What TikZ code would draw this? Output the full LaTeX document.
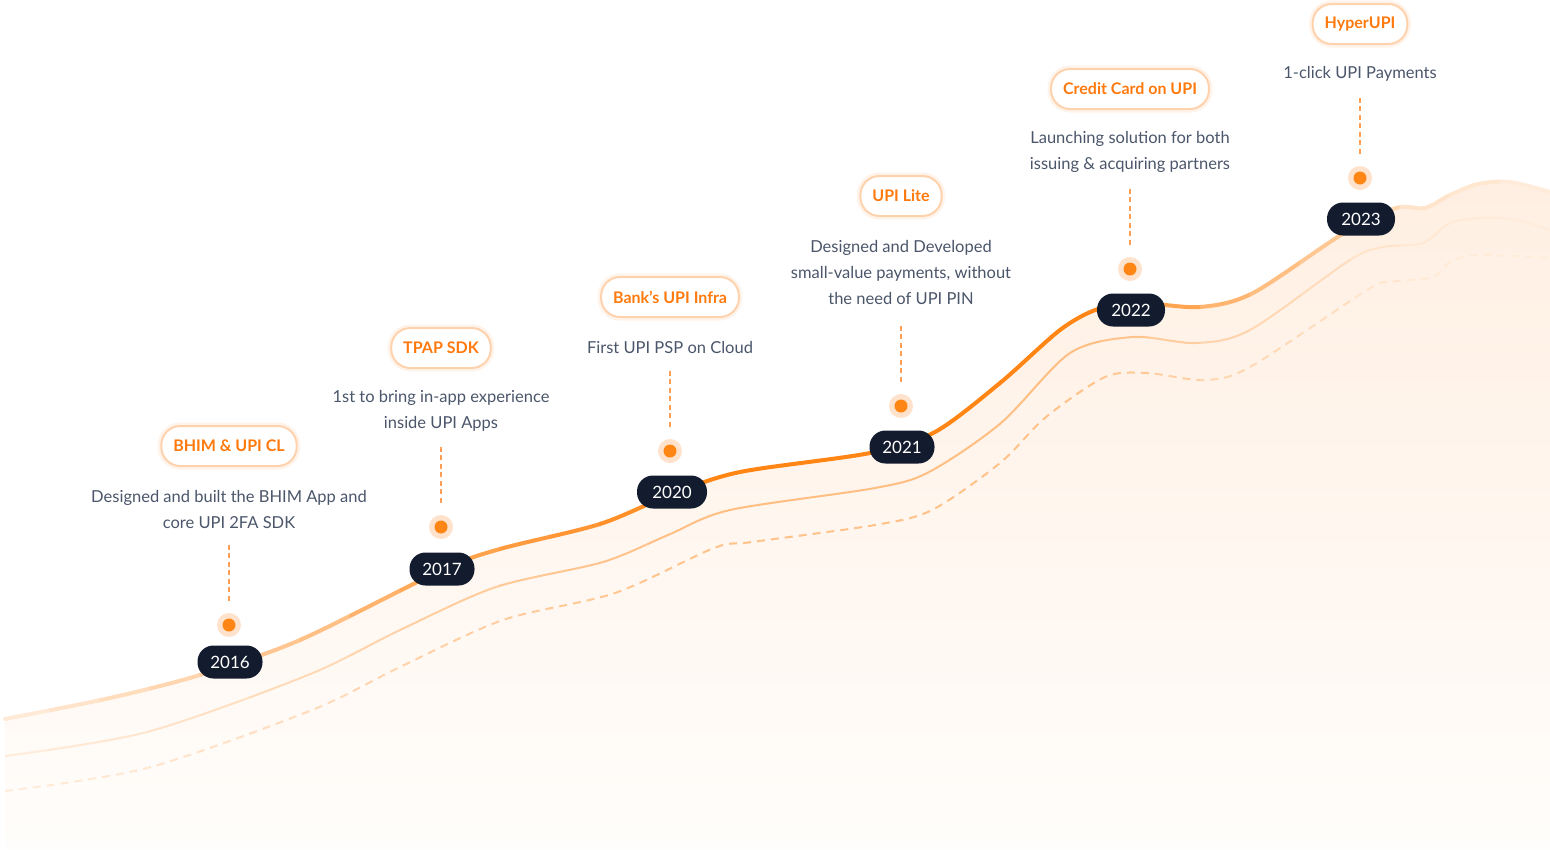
\documentclass[tikz,border=0pt]{standalone}
\usepackage{fontspec}
\setmainfont{Lato}
\definecolor{org}{HTML}{FF8514}
\definecolor{navy}{HTML}{131C2E}
\definecolor{desc}{HTML}{4B566B}
\definecolor{lbl}{HTML}{FF7A0E}
\definecolor{lblborder}{HTML}{FFD2AE}
\definecolor{glow}{HTML}{FFF3EA}
\definecolor{halo}{HTML}{FFE2CB}
\definecolor{vd}{HTML}{FF9F55}
\definecolor{filltop}{HTML}{FFEFE2}
\definecolor{fillbot}{HTML}{FFFDFB}
\begin{document}
\begin{tikzpicture}[x=1pt,y=-1pt,
  lblpill/.style={draw=lblborder, line width=2pt, fill=white, rounded corners=19pt,
    minimum height=40pt, inner xsep=12pt, text=lbl,
    font=\fontsize{16}{19}\selectfont\bfseries,
    preaction={draw=glow, line width=7pt, rounded corners=19pt}},
  yearpill/.style={fill=navy, text=white, rounded corners=16pt, minimum height=33pt,
    minimum width=65pt, inner xsep=10pt, font=\fontsize{17}{20}\selectfont},
  desctext/.style={text=desc, align=center, inner sep=0pt,
    font=\fontsize{16.5}{26}\selectfont},
  halodot/.style={circle, fill=halo, minimum size=24pt, inner sep=0pt},
  vdash/.style={draw=vd, line width=1.8pt, dash pattern=on 5pt off 3.5pt}
]
\useasboundingbox (0,0) rectangle (1550,849);
\fill[white] (0,0) rectangle (1550,849);

% filled area under the main curve
\shade[top color=filltop, bottom color=fillbot]
  (5,849) -- plot[smooth,tension=0.5] coordinates {(5,719) (110,698) (200,675) (300,640) (442,570) (500,549) (600,524) (672,494) (740,472) (870,453) (935,432) (1000,383) (1060,330) (1098,309) (1140,303) (1200,307) (1253,293) (1344,233) (1396,208) (1425,208) (1450,195) (1478,184) (1510,182) (1550,192)}
  -- (1550,849) -- cycle;

% curves with colour varying along x
\foreach \xa/\p in {0/17,50/22,100/28,150/34,200/39,250/47,300/52,350/62,400/70,450/76,500/82,550/87,600/92,650/97,700/100,750/100,800/100,850/100,900/100,950/100,1000/100,1050/100,1100/91,1150/74,1200/61,1250/53,1300/46,1350/32,1400/22,1450/20,1500/16}{
  \begin{scope}
    \clip (\xa-0.5,0) rectangle (\xa+50.5,849);
    \pgfmathsetmacro\ps{0.45*\p+8}
    \pgfmathsetmacro\pd{0.42*\p+8}
    \draw[line width=2pt, color=org!\ps!white]
      plot[smooth,tension=0.5] coordinates {(5,756) (147,732) (308,675) (400,630) (496,587) (603,562) (668,535) (730,510) (875,488) (929,472) (1001,423) (1070,353) (1133,337) (1196,343) (1250,330) (1350,260) (1383,247) (1423,243) (1450,223) (1483,218) (1517,220) (1550,230)};
    \draw[line width=2pt, color=org!\pd!white, dash pattern=on 8pt off 6pt]
      plot[smooth,tension=0.5] coordinates {(5,791) (147,768) (312,710) (400,667) (503,620) (615,593) (714,548) (752,542) (875,525) (932,510) (1000,463) (1046,417) (1105,377) (1147,373) (1204,380) (1250,367) (1367,290) (1390,282) (1433,277) (1450,262) (1477,255) (1550,258)};
    \draw[line width=4pt, color=org!\p!white, line cap=round]
      plot[smooth,tension=0.5] coordinates {(5,719) (110,698) (200,675) (300,640) (442,570) (500,549) (600,524) (672,494) (740,472) (870,453) (935,432) (1000,383) (1060,330) (1098,309) (1140,303) (1200,307) (1253,293) (1344,233) (1396,208) (1425,208) (1450,195) (1478,184) (1510,182) (1550,192)};
  \end{scope}
}

% year pills
\node[yearpill] (y2016) at (230,662) {2016};
\node[yearpill] (y2017) at (442,569) {2017};
\node[yearpill, minimum width=70pt] (y2020) at (672,492) {2020};
\node[yearpill] (y2021) at (902,447) {2021};
\node[yearpill, minimum width=68pt] (y2022) at (1131,310) {2022};
\node[yearpill, minimum width=68pt] (y2023) at (1361,219) {2023};

% dots
\foreach \n/\x/\y in {2016/229/625, 2017/441/527, 2020/670/451, 2021/901/406, 2022/1130/269, 2023/1360/178}{
  \node[halodot] (dot\n) at (\x,\y) {};
  \fill[org] (dot\n.center) circle (6.5pt);
}

% titles
\node[lblpill] (t2016) at (229,446) {BHIM \& UPI CL};
\node[lblpill] (t2017) at (441,348) {TPAP SDK};
\node[lblpill] (t2020) at (670,297) {Bank’s UPI Infra};
\node[lblpill] (t2021) at (901,196) {UPI Lite};
\node[lblpill] (t2022) at (1130,89) {Credit Card on UPI};
\node[lblpill] (t2023) at (1360,24) {HyperUPI};

% descriptions
\node[desctext] (d2016) at (229,509) {Designed and built the BHIM App and\\core UPI 2FA SDK};
\node[desctext] (d2017) at (441,411) {1st to bring in-app experience\\inside UPI Apps};
\node[desctext] (d2020) at (670,347) {First UPI PSP on Cloud};
\node[desctext] (d2021) at (901,272) {Designed and Developed\\small-value payments, without\\the need of UPI PIN};
\node[desctext] (d2022) at (1130,152) {Launching solution for both\\issuing \& acquiring partners};
\node[desctext] (d2023) at (1360,74) {1-click UPI Payments};

% dashed connectors from descriptions to dots
\foreach \n in {2016,2017,2020,2021,2022,2023}{
  \draw[vdash] ([yshift=68pt]dot\n.north) -- ([yshift=11pt]dot\n.north);
}
\end{tikzpicture}
\end{document}
